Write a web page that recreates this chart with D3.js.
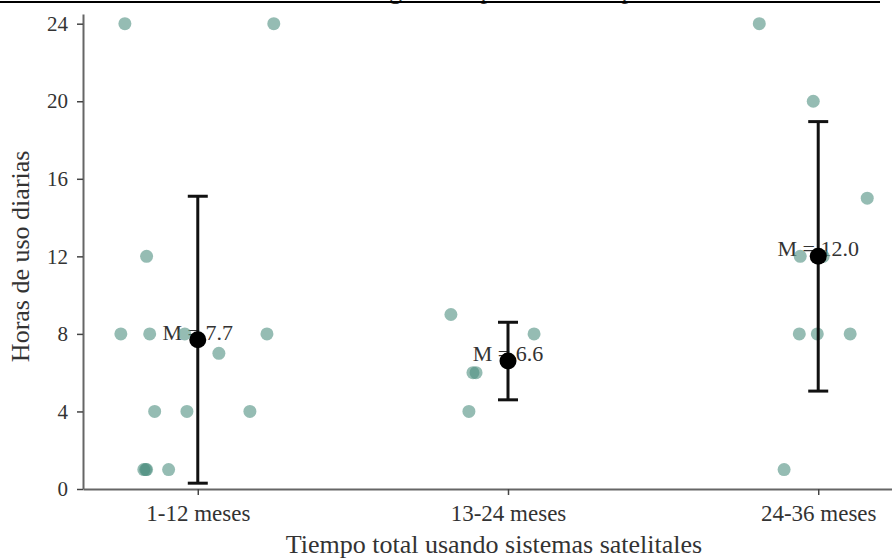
<!DOCTYPE html>
<html>
<head>
<meta charset="utf-8">
<script src="https://cdn.jsdelivr.net/npm/d3@7/dist/d3.min.js"></script>
<style>
  html, body { margin: 0; padding: 0; background: #fff; }
  svg { display: block; font-family: "Liberation Serif", "Times New Roman", serif; }
</style>
</head>
<body>
<svg id="chart" width="892" height="560"></svg>
<script>
// Groups on the x axis
const categories = ["1-12 meses", "13-24 meses", "24-36 meses"];

// Daily hours of use reported by each participant, per group
const hours1 = [24, 24, 12, 8, 8, 8, 8, 7, 4, 4, 4, 1, 1, 1, 1];
const hours2 = [9, 8, 6, 6, 4];
const hours3 = [24, 20, 15, 12, 12, 8, 8, 8, 1];

// Horizontal jitter of each participant, as a fraction of the category step
const jitter1 = [-0.235, 0.245, -0.165, -0.248, -0.155, -0.042, 0.223, 0.068, -0.139, -0.035, 0.168, -0.174, -0.165, -0.168, -0.094];
const jitter2 = [-0.184, 0.084, -0.113, -0.103, -0.126];
const jitter3 = [-0.19, -0.016, 0.158, -0.058, 0.016, -0.061, -0.003, 0.103, -0.11];

// Group means and standard deviations
const means = [7.7, 6.6, 12.0];
const sds = [7.4, 2.0, 6.95];

// Axis ticks and labels
const yTicks = [0, 4, 8, 12, 16, 20, 24];
const xTitle = "Tiempo total usando sistemas satelitales";
const yTitle = "Horas de uso diarias";
const chartTitle = "Horas de uso según tiempo total de experiencia";

const groups = [hours1, hours2, hours3];
const jitters = [jitter1, jitter2, jitter3];

const svg = d3.select("#chart");

const x = d3.scalePoint().domain(categories).range([83, 933]).padding(0.37);
const y = d3.scaleLinear().domain([0, 24.5]).range([489, 14]);
const step = x.step();

// Title (sits above the top frame edge; only its descenders reach the page)
svg.append("text")
  .attr("x", 225).attr("y", -1)
  .attr("font-size", 26).attr("fill", "#333")
  .text(chartTitle);
svg.append("line")
  .attr("x1", 0).attr("x2", 880).attr("y1", 2).attr("y2", 2)
  .attr("stroke", "#000").attr("stroke-width", 2);

// Axes
const yAxis = svg.append("g")
  .attr("transform", `translate(${x.range()[0]},0)`)
  .call(d3.axisLeft(y).tickValues(yTicks).tickSize(6).tickSizeOuter(0).tickPadding(9));
const xAxis = svg.append("g")
  .attr("transform", `translate(0,${y(0)})`)
  .call(d3.axisBottom(x).tickSize(6).tickSizeOuter(0).tickPadding(10));

[yAxis, xAxis].forEach(g => {
  g.select(".domain").attr("stroke", "#666").attr("stroke-width", 2);
  g.selectAll(".tick line").attr("stroke", "#444").attr("stroke-width", 1.5);
  g.selectAll(".tick text").attr("fill", "#333").attr("font-family", "Liberation Serif");
});
yAxis.selectAll(".tick text").attr("font-size", 21);
xAxis.selectAll(".tick text").attr("font-size", 23);

svg.append("text")
  .attr("x", 494).attr("y", 553)
  .attr("text-anchor", "middle")
  .attr("font-size", 26).attr("fill", "#333")
  .text(xTitle);
svg.append("text")
  .attr("transform", `translate(29,${(y(0) + y(24)) / 2}) rotate(-90)`)
  .attr("text-anchor", "middle")
  .attr("font-size", 26).attr("fill", "#333")
  .text(yTitle);

// Mean labels
const fmt = d3.format(".1f");
svg.append("g").selectAll("text")
  .data(categories)
  .join("text")
  .attr("x", c => x(c))
  .attr("y", (c, i) => y(means[i]))
  .attr("text-anchor", "middle")
  .attr("font-size", 22).attr("fill", "#333")
  .text((c, i) => `M = ${fmt(means[i])}`);

// Individual responses
const points = [];
categories.forEach((c, i) => {
  groups[i].forEach((v, j) => points.push({ c, v, dx: jitters[i][j] }));
});
svg.append("g").selectAll("circle")
  .data(points)
  .join("circle")
  .attr("cx", d => x(d.c) + d.dx * step)
  .attr("cy", d => y(d.v))
  .attr("r", 6.5)
  .attr("fill", "#4f8f80")
  .attr("fill-opacity", 0.6);

// Error bars (mean ± SD)
const eb = svg.append("g").attr("stroke", "#111").attr("stroke-width", 3);
categories.forEach((c, i) => {
  const cx = x(c), lo = y(means[i] - sds[i]), hi = y(means[i] + sds[i]);
  eb.append("line").attr("x1", cx).attr("x2", cx).attr("y1", lo).attr("y2", hi);
  eb.append("line").attr("x1", cx - 10).attr("x2", cx + 10).attr("y1", lo).attr("y2", lo);
  eb.append("line").attr("x1", cx - 10).attr("x2", cx + 10).attr("y1", hi).attr("y2", hi);
});

// Mean markers
svg.append("g").selectAll("circle")
  .data(categories)
  .join("circle")
  .attr("cx", c => x(c))
  .attr("cy", (c, i) => y(means[i]))
  .attr("r", 8.5)
  .attr("fill", "#000");
</script>
</body>
</html>
